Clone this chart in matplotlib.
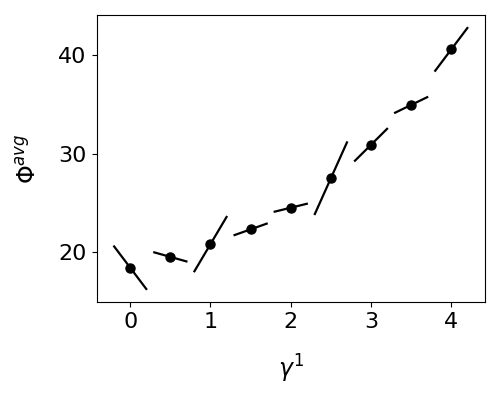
import numpy as np
import matplotlib.pyplot as plt

# gamma^1 values and measured Phi^avg
gamma = [0.0, 0.5, 1.0, 1.5, 2.0, 2.5, 3.0, 3.5, 4.0]
phi_avg = [18.4, 19.5, 20.8, 22.3, 24.5, 27.5, 30.9, 34.95, 40.6]
# local slope dPhi/dgamma at each point
slope = [-10.8, -2.3, 13.8, 2.9, 2.0, 18.2, 8.1, 3.95, 10.85]

half_width = 0.2

fig = plt.figure(figsize=(5, 4), dpi=100)
ax = fig.add_axes([0.193, 0.245, 0.777, 0.7175])

for x, y, s in zip(gamma, phi_avg, slope):
    xs = np.array([x - half_width, x + half_width])
    ax.plot(xs, y + s * (xs - x), color="black", lw=1.6)

ax.plot(gamma, phi_avg, "o", color="black", ms=6.5)

ax.set_xticks([0, 1, 2, 3, 4])
ax.set_yticks([20, 30, 40])
ax.tick_params(labelsize=16)
ax.set_xlabel(r"$\gamma^1$", fontsize=17, labelpad=15)
ax.set_ylabel(r"$\Phi^{avg}$", fontsize=17, labelpad=13)

fig.savefig("out.png")
